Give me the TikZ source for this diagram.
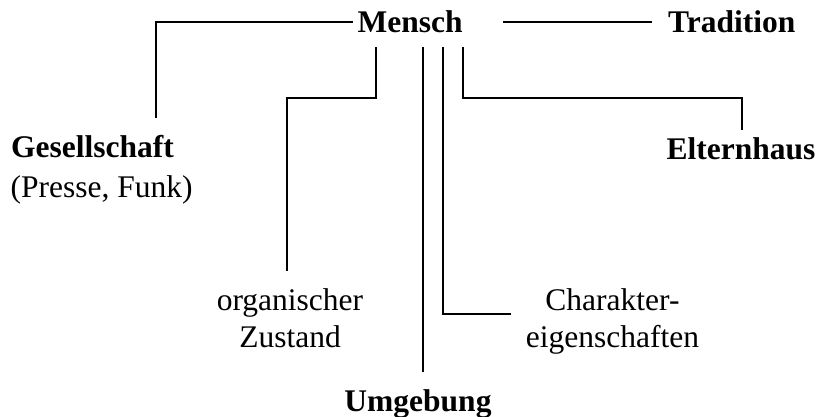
\documentclass[tikz,border=0pt]{standalone}
\usepackage{fontspec}
\setmainfont{Liberation Serif}
\usetikzlibrary{calc}

\newcommand\lblsize{\fontsize{31.5}{37}\selectfont}

\begin{document}
\begin{tikzpicture}[x=1pt, y=-1pt, inner sep=0pt,
  font=\lblsize,
  link/.style={line width=1.8pt},
  head/.style={font=\lblsize\bfseries}]
    \useasboundingbox (0,0) rectangle (817,417);
    %
    \node[head, anchor=base west] (mensch) at (357.5,33) {Mensch};
    \node[head, anchor=base west] (tradition) at (668,33) {Tradition};
    \node[head, anchor=base west] (gesell) at (11,158) {Gesellschaft};
    \node[anchor=base west] (presse) at (10.5,197) {(Presse, Funk)};
    \node[head, anchor=base west] (eltern) at (666.5,160) {Elternhaus};
    \node[anchor=base] (organ) at (290,310) {organischer};
    \node[anchor=base] (zustand) at (290,347) {Zustand};
    \node[anchor=base] (charakter) at (612.5,310) {Charakter-};
    \node[anchor=base] (eigen) at (612.5,347) {eigenschaften};
    \node[head, anchor=base] (umgebung) at (418,411) {Umgebung};
    %
    % line ends below Mensch
    \coordinate (m_organ) at ($(mensch.base west)+(18.5,14)$);
    \coordinate (m_umgeb) at ($(mensch.base west)+(65.5,14)$);
    \coordinate (m_charak) at ($(mensch.base west)+(85.5,14)$);
    \coordinate (m_eltern) at ($(mensch.base west)+(105.5,14)$);
    % free ends above the labels
    \coordinate (gesell_end) at (156,118);
    \coordinate (organ_end) at (287,271);
    \coordinate (umgeb_end) at (423,372);
    \coordinate (charak_end) at (511,314);
    \coordinate (eltern_end) at (742,130);
    %
    \draw[link] ([xshift=-5pt]mensch.west) -| (gesell_end);
    \draw[link] ([xshift=-16pt]tradition.west) -- ++(-149,0);
    \draw[link] (m_organ) |- ++(-89,51) -- (organ_end);
    \draw[link] (m_umgeb) -- (umgeb_end);
    \draw[link] (m_charak) |- (charak_end);
    \draw[link] (m_eltern) |- ++(279,51) -- (eltern_end);
\end{tikzpicture}
\end{document}
